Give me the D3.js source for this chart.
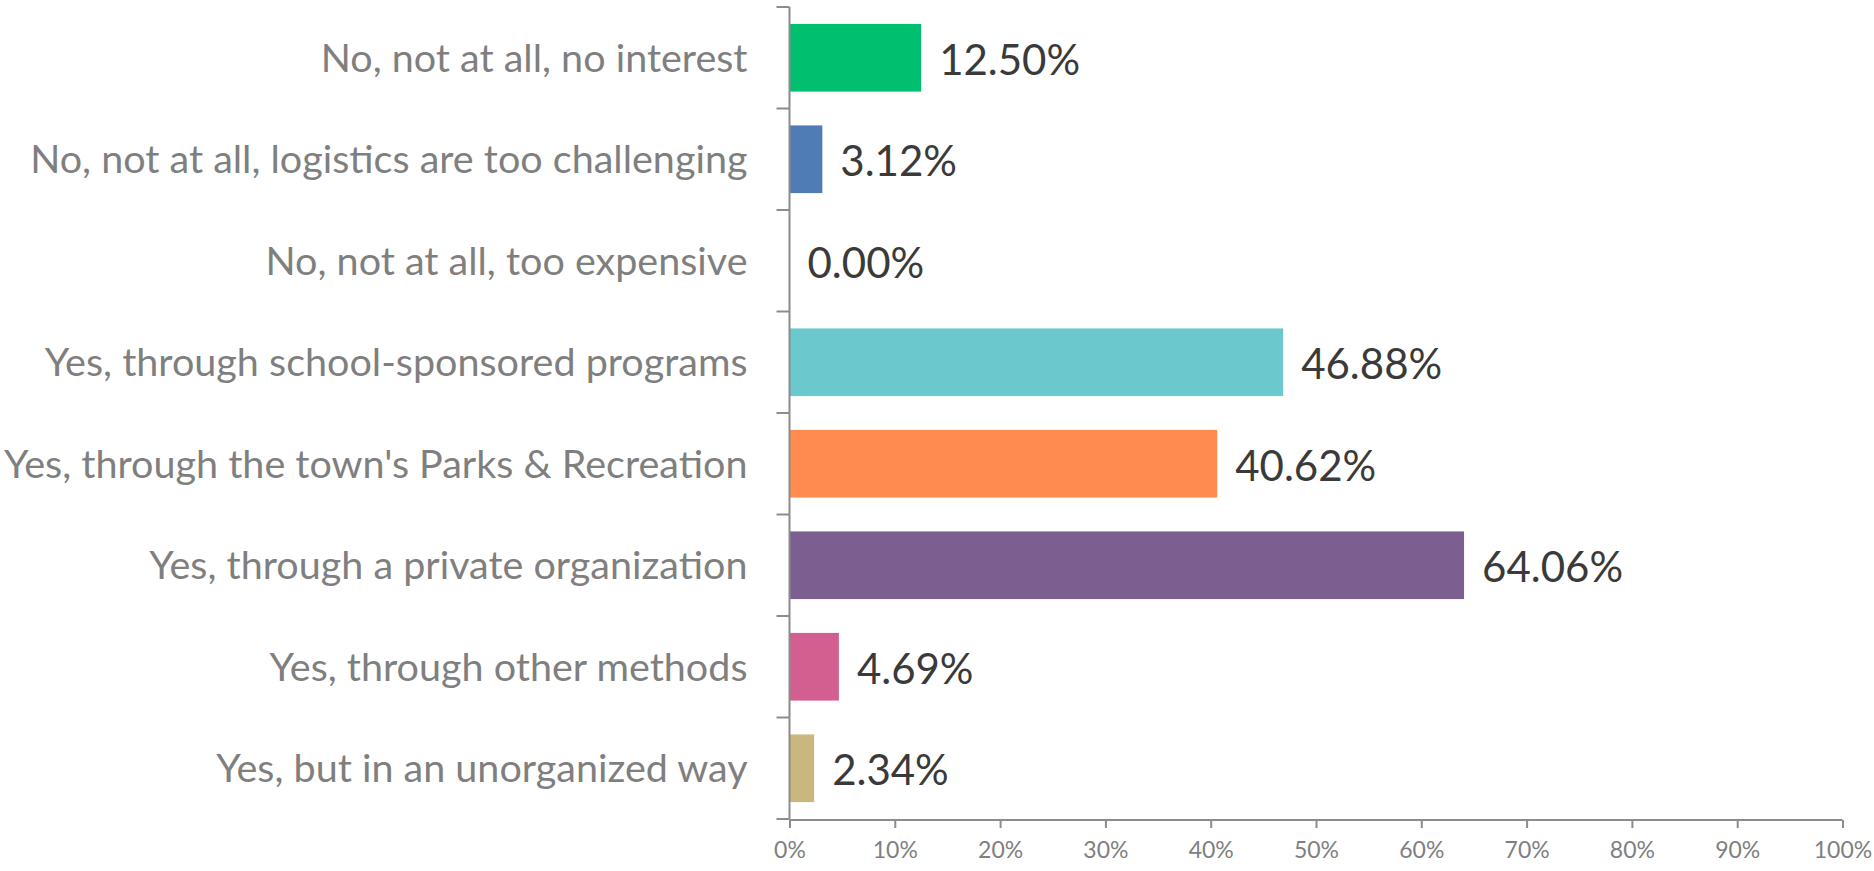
<!DOCTYPE html>
<html>
<head>
<meta charset="utf-8">
<script src="https://cdn.jsdelivr.net/npm/d3@7"></script>
<style>
  body { margin: 0; background: #fff; }
  svg text { font-family: Lato, "Open Sans", sans-serif; }
</style>
</head>
<body>
<div id="chart"></div>
<script>
// answers (top to bottom) and share of respondents, in %
var categories = [
  "No, not at all, no interest",
  "No, not at all, logistics are too challenging",
  "No, not at all, too expensive",
  "Yes, through school-sponsored programs",
  "Yes, through the town's Parks & Recreation",
  "Yes, through a private organization",
  "Yes, through other methods",
  "Yes, but in an unorganized way"
];
var values = [12.50, 3.12, 0.00, 46.88, 40.62, 64.06, 4.69, 2.34];
var colors = ["#00BF6F", "#507CB6", "#F9BE00", "#6BC8CD", "#FF8B4F", "#7D5E90", "#D25F90", "#C9B77D"];
var xTicks = [0, 10, 20, 30, 40, 50, 60, 70, 80, 90, 100];

var width = 1874, height = 871;
var margin = {top: 7, right: 31.5, bottom: 52, left: 789.5};

var svg = d3.select("#chart")
  .append("svg")
  .attr("width", width)
  .attr("height", height);

var x = d3.scaleLinear()
  .domain([0, 100])
  .range([margin.left, width - margin.right]);

var y = d3.scaleBand()
  .domain(categories)
  .range([margin.top, height - margin.bottom])
  .paddingInner(1/3)
  .paddingOuter(1/6);

var axisColor = "#8c8c8c";

//bars
svg.selectAll("rect.bar")
  .data(values)
  .enter().append("rect")
  .attr("class", "bar")
  .attr("x", x(0))
  .attr("y", (d, i) => y(categories[i]))
  .attr("width", d => x(d) - x(0))
  .attr("height", y.bandwidth())
  .attr("fill", (d, i) => colors[i]);

//value labels
svg.selectAll("text.val")
  .data(values)
  .enter().append("text")
  .attr("class", "val")
  .attr("x", d => x(d) + 18)
  .attr("y", (d, i) => y(categories[i]) + y.bandwidth() / 2 + 2)
  .attr("dy", "0.36em")
  .style("font-size", "42px")
  .style("fill", "#3a3a3a")
  .text(d => d.toFixed(2) + "%");

//category labels
svg.selectAll("text.cat")
  .data(categories)
  .enter().append("text")
  .attr("class", "cat")
  .attr("x", x(0) - 42)
  .attr("y", d => y(d) + y.bandwidth() / 2)
  .attr("dy", "0.35em")
  .attr("text-anchor", "end")
  .style("font-size", "39.5px")
  .style("fill", "#7f7f7f")
  .text(d => d);

//y axis line + ticks at band boundaries
var yBottom = height - margin.bottom;
svg.append("line")
  .attr("x1", x(0)).attr("x2", x(0))
  .attr("y1", margin.top).attr("y2", yBottom)
  .attr("stroke", axisColor).attr("stroke-width", 2);

var bounds = d3.range(categories.length + 1).map(i => margin.top + i * (yBottom - margin.top) / categories.length);
svg.selectAll("line.ytick")
  .data(bounds)
  .enter().append("line")
  .attr("class", "ytick")
  .attr("x1", x(0) - 13).attr("x2", x(0))
  .attr("y1", d => d).attr("y2", d => d)
  .attr("stroke", axisColor).attr("stroke-width", 2);

//x axis
var xAxis = svg.append("g")
  .attr("transform", "translate(0," + (yBottom + 1) + ")")
  .call(d3.axisBottom(x).tickValues(xTicks).tickSize(8).tickPadding(14).tickFormat(d => d + "%"));

xAxis.select(".domain").remove();
xAxis.append("line")
  .attr("x1", x(0)).attr("x2", x(100))
  .attr("stroke", axisColor).attr("stroke-width", 2);
xAxis.selectAll(".tick line").attr("stroke", axisColor).attr("stroke-width", 2);
xAxis.selectAll(".tick text")
  .style("font-size", "23px")
  .style("fill", "#7f7f7f")
  .style("font-family", "Lato, sans-serif");
</script>
</body>
</html>
